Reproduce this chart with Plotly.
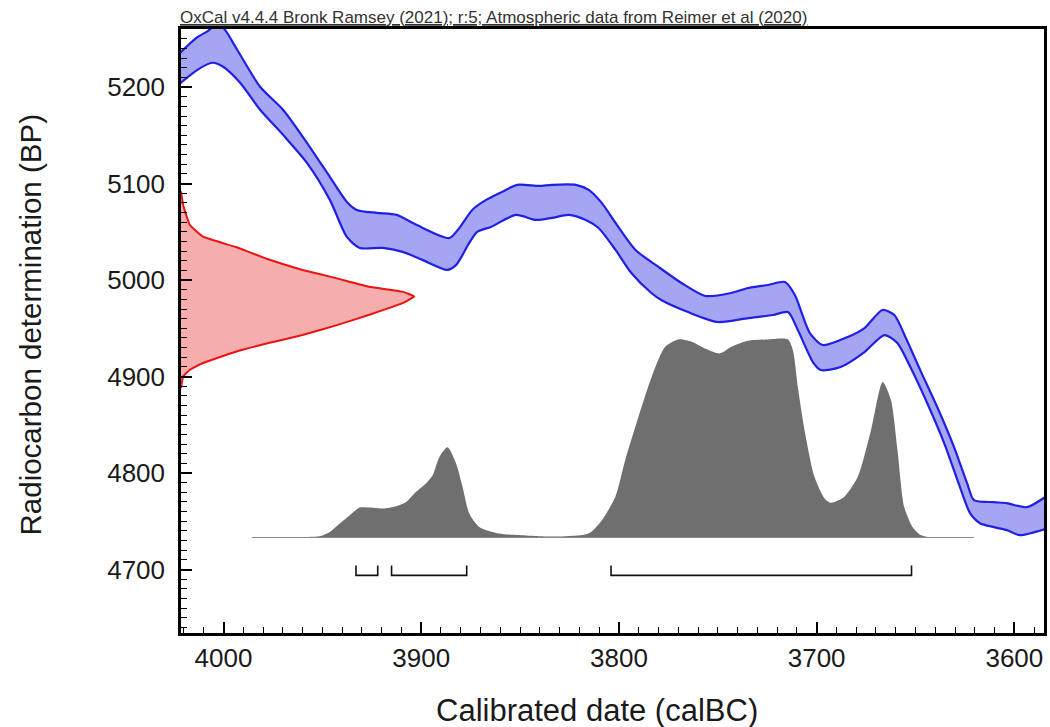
import plotly.graph_objects as go

# ---------------- data ----------------
# Calibration curve envelope (calBC year, BP)
cal_upper_year = [4023, 4013.7, 4008, 4004, 4000, 3993.1, 3981.5, 3969.9, 3957.8, 3946.2,
                  3937.6, 3932.6, 3922.5, 3912.4, 3902.4, 3885.8, 3880.7, 3874.2, 3867.2,
                  3859.1, 3851.5, 3840.4, 3833.9, 3821.8, 3815.3, 3808.7, 3801.7, 3791.6,
                  3780.0, 3768.4, 3756.3, 3743.2, 3734.6, 3724.6, 3716.0, 3711.0, 3703.4,
                  3696.9, 3684.3, 3675.8, 3666.7, 3660.7, 3655.1, 3647.6, 3639.0, 3630.5,
                  3623.9, 3620.4, 3610.3, 3603.8, 3593.7, 3583]
cal_upper_bp = [5233.5, 5251.1, 5258, 5264, 5261, 5238.7, 5200.3, 5176.5, 5142.2, 5106.9,
                5081.0, 5072.7, 5069.6, 5067.5, 5057.2, 5043.6, 5054.0, 5072.7, 5083.1,
                5091.4, 5098.7, 5097.6, 5098.7, 5098.7, 5093.5, 5080.0, 5059.2, 5031.2,
                5013.6, 4997.0, 4983.5, 4986.6, 4991.8, 4994.9, 4998.0, 4984.5, 4945.1,
                4932.7, 4941.0, 4950.3, 4969.0, 4963.8, 4941.0, 4906.7, 4868.4, 4826.9,
                4789.5, 4771.9, 4769.8, 4768.8, 4764.6, 4777]
cal_lower_year = [4023, 4013.2, 4005.7, 4000.2, 3991.6, 3981.5, 3969.9, 3957.8, 3946.2,
                  3937.6, 3931.1, 3919.5, 3909.4, 3899.4, 3886.8, 3882.3, 3875.7, 3871.7,
                  3864.7, 3852.1, 3842.0, 3833.9, 3825.4, 3816.8, 3810.3, 3801.7, 3793.7,
                  3783.6, 3778.6, 3765.0, 3749.9, 3734.6, 3722.1, 3714.5, 3709.5, 3701.9,
                  3697.9, 3687.9, 3675.8, 3665.7, 3659.2, 3652.6, 3644.1, 3635.5, 3627.5,
                  3622.4, 3617.4, 3610.3, 3603.8, 3597.3, 3583]
cal_lower_bp = [5202, 5217.9, 5225.2, 5221.1, 5204.5, 5176.5, 5150.5, 5121.5, 5083.1,
                5044.7, 5033.3, 5033.3, 5029.2, 5020.9, 5010.5, 5015.7, 5038.5, 5049.9,
                5055.1, 5067.5, 5062.3, 5064.4, 5067.5, 5062.3, 5054.0, 5031.2, 5007.3,
                4986.6, 4979.3, 4966.8, 4956.5, 4960.6, 4963.8, 4966.8, 4948.2, 4915.0,
                4906.7, 4909.8, 4925.4, 4943.0, 4934.7, 4909.8, 4872.5, 4831.0, 4785.4,
                4758.4, 4748.0, 4743.9, 4740.8, 4735.6, 4743]

# Radiocarbon measurement distribution (BP, relative probability)
meas_bp = [5092, 5077, 5057, 5045, 5034, 5021, 5010.5, 5002, 4993, 4988, 4983,
           4976, 4964, 4953, 4943, 4935, 4926, 4914, 4907, 4900, 4888]
meas_prob = [0, 0.01, 0.038, 0.094, 0.238, 0.38, 0.521, 0.665, 0.808, 0.949, 1.0,
             0.949, 0.808, 0.665, 0.521, 0.38, 0.238, 0.094, 0.038, 0.009, 0]

# Calibrated date distribution (calBC, relative probability)
post_year = [3985.7, 3961.4, 3951.4, 3946.2, 3941.2, 3936.1, 3931.1, 3926.1, 3919.4,
             3912.6, 3907.6, 3902.6, 3897.6, 3894.2, 3890.8, 3886.7, 3882.4, 3879.1,
             3875.7, 3870.7, 3860.6, 3850.6, 3840.5, 3830.4, 3815.3, 3808.6, 3801.8,
             3796.8, 3790.1, 3783.4, 3776.6, 3769.9, 3763.2, 3756.5, 3748.9, 3743.1,
             3734.7, 3724.6, 3714.5, 3712.0, 3709.5, 3706.1, 3701.1, 3696.0, 3692.7,
             3686.0, 3679.2, 3672.5, 3666.6, 3662.4, 3659.1, 3655.7, 3651.5, 3647.4,
             3642.3, 3620.4]
post_prob = [0, 0.003, 0.006, 0.028, 0.070, 0.112, 0.150, 0.150, 0.145,
             0.157, 0.178, 0.229, 0.271, 0.312, 0.404, 0.452, 0.372, 0.254,
             0.120, 0.053, 0.020, 0.012, 0.006, 0.005, 0.020, 0.087, 0.204,
             0.388, 0.605, 0.806, 0.956, 0.993, 0.981, 0.948, 0.923, 0.956,
             0.986, 0.993, 0.993, 0.939, 0.755, 0.538, 0.304, 0.196, 0.174,
             0.204, 0.304, 0.538, 0.780, 0.689, 0.438, 0.153, 0.053, 0.012,
             0.0, 0.0]

# 95.4% probability ranges (calBC)
range_start = [3933, 3915, 3804]
range_end = [3922, 3877, 3652]

header = "OxCal v4.4.4 Bronk Ramsey (2021); r:5; Atmospheric data from Reimer et al (2020)"
x_title = "Calibrated date (calBC)"
y_title = "Radiocarbon determination (BP)"
x_ticks = [4000, 3900, 3800, 3700, 3600]
y_ticks = [4700, 4800, 4900, 5000, 5100, 5200]

# ---------------- styling ----------------
FONT = "Arial, Liberation Sans, sans-serif"
BAND_FILL = "#a5a5f3"
BAND_LINE = "#2020e4"
RED_FILL = "#f6adad"
RED_LINE = "#ec1212"
GRAY = "#6f6f6f"
SMOOTH = dict(shape="spline", smoothing=0.7)

fig = go.Figure()

# calibrated distribution (x years, y2 relative prob)
fig.add_trace(go.Scatter(x=post_year, y=post_prob, xaxis="x", yaxis="y2",
                         mode="lines", fill="tozeroy", fillcolor=GRAY,
                         line=dict(width=0, color=GRAY, **SMOOTH), hoverinfo="skip"))
fig.add_trace(go.Scatter(x=[post_year[0], post_year[-1]], y=[0, 0], xaxis="x", yaxis="y2",
                         mode="lines", line=dict(width=1, color="#8a8a8a"), hoverinfo="skip"))

# calibration band
fig.add_trace(go.Scatter(x=cal_upper_year + cal_lower_year[::-1],
                         y=cal_upper_bp + cal_lower_bp[::-1],
                         mode="lines", fill="toself", fillcolor=BAND_FILL,
                         line=dict(width=0, **SMOOTH), hoverinfo="skip"))
fig.add_trace(go.Scatter(x=cal_upper_year, y=cal_upper_bp, mode="lines",
                         line=dict(width=2.2, color=BAND_LINE, **SMOOTH), hoverinfo="skip"))
fig.add_trace(go.Scatter(x=cal_lower_year, y=cal_lower_bp, mode="lines",
                         line=dict(width=2.2, color=BAND_LINE, **SMOOTH), hoverinfo="skip"))

# radiocarbon measurement (x2 relative prob, y BP)
fig.add_trace(go.Scatter(x=meas_prob, y=meas_bp, xaxis="x2", yaxis="y",
                         mode="lines", fill="tozerox", fillcolor=RED_FILL,
                         line=dict(width=2, color=RED_LINE, shape="spline", smoothing=0.3),
                         hoverinfo="skip"))

# range brackets
bx, by = [], []
lvl, tick = -0.19, 0.05
for s, e in zip(range_start, range_end):
    bx += [s, s, e, e, None]
    by += [lvl + tick, lvl, lvl, lvl + tick, None]
fig.add_trace(go.Scatter(x=bx, y=by, xaxis="x", yaxis="y2", mode="lines",
                         line=dict(width=1.6, color="#111111"), hoverinfo="skip"))

axis_common = dict(showgrid=False, zeroline=False, showline=True, linecolor="black",
                   linewidth=2.5, mirror=True, ticks="inside", ticklen=11, tickwidth=1.5,
                   tickcolor="black",
                   tickfont=dict(family=FONT, size=26, color="#1a1a1a"))

fig.update_layout(
    width=1050, height=727,
    margin=dict(l=181, r=3, t=29, b=94),
    paper_bgcolor="white", plot_bgcolor="white",
    showlegend=False,
    xaxis=dict(range=[4021.5, 3585], tickvals=x_ticks,
               minor=dict(dtick=10, tick0=4000, ticks="inside", ticklen=6, tickwidth=1,
                          tickcolor="black"),
               **axis_common),
    yaxis=dict(range=[4634.2, 5260.2], tickvals=y_ticks, ticklabelstandoff=8,
               minor=dict(dtick=10, tick0=4700, ticks="inside", ticklen=6, tickwidth=1,
                          tickcolor="black"),
               **axis_common),
    xaxis2=dict(range=[0, 3.7009], overlaying="x", visible=False),
    yaxis2=dict(range=[-0.4787, 2.549], overlaying="y", visible=False),
    annotations=[
        dict(text="<u>" + header + "</u>", xref="paper", yref="paper", x=-0.0035, y=1.0187,
             xanchor="left", yanchor="middle", showarrow=False,
             font=dict(family=FONT, size=17, color="#333333")),
        dict(text=x_title, xref="paper", yref="paper", x=0.4815, y=-0.128,
             xanchor="center", yanchor="middle", showarrow=False,
             font=dict(family=FONT, size=31, color="#1a1a1a")),
        dict(text=y_title, xref="paper", yref="paper", x=-0.1744, y=0.51,
             xanchor="center", yanchor="middle", showarrow=False, textangle=-90,
             font=dict(family=FONT, size=29.5, color="#1a1a1a")),
    ],
)

# remove the page's default 8px body margin so the 1050x727 figure fills the window
fig.write_html("out.html", config={"displayModeBar": False},
               post_script="document.body.style.margin='0';")
